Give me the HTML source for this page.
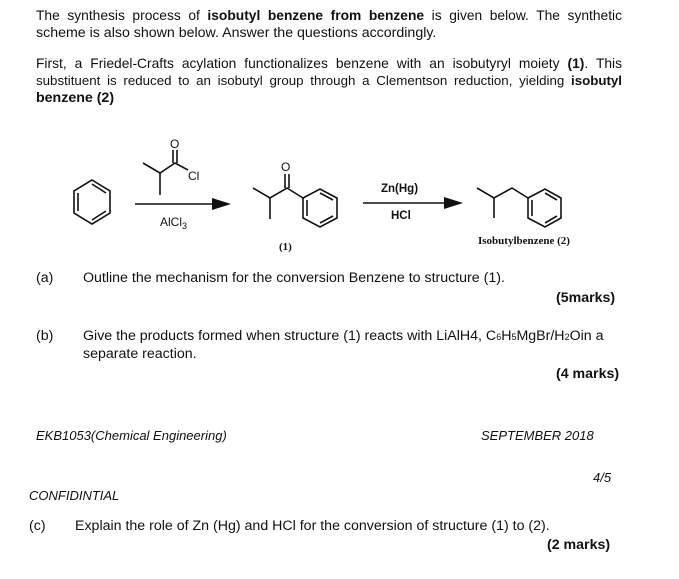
<!DOCTYPE html>
<html><head><style>
body{margin:0;width:679px;height:579px;background:#fff;position:relative;overflow:hidden;font-family:"Liberation Sans",Arial,sans-serif;color:#111;}
.t{position:absolute;font-size:14.2px;white-space:nowrap;line-height:16px;}
.j{width:586px;text-align:justify;text-align-last:justify;white-space:normal;font-size:13.8px;}
.i{font-style:italic;font-size:13px;}
</style></head><body>
<div class="t j" style="left:36px;top:8px">The synthesis process of <b>isobutyl benzene from benzene</b> is given below. The synthetic</div>
<div class="t" style="left:36px;top:25px">scheme is also shown below. Answer the questions accordingly.</div>
<div class="t j" style="left:36px;top:56px">First, a Friedel-Crafts acylation functionalizes benzene with an isobutyryl moiety <b>(1)</b>. This</div>
<div class="t j" style="left:36px;top:73px;font-size:13.3px">substituent is reduced to an isobutyl group through a Clementson reduction, yielding <b>isobutyl</b></div>
<div class="t" style="left:36px;top:90px"><b>benzene (2)</b></div>

<svg width="679" height="579" style="position:absolute;left:0;top:0" font-family="Liberation Sans, Arial, sans-serif">
<g stroke="#111" stroke-width="1.6" fill="none">
<polygon points="92,180 110,191 110,213 92,224 74,213 74,191"/>
<polyline points="78,193 78,211"/><polyline points="92,184 106,193"/><polyline points="92,220 106,211"/>
<line x1="135" y1="204" x2="214" y2="204"/>
<polyline points="143,163 160,173 175,163 188,170"/><line x1="160" y1="173" x2="160" y2="195"/>
<line x1="173" y1="163" x2="173" y2="150"/><line x1="177" y1="163" x2="177" y2="150"/>
<polyline points="253,188 270,198 287,188 303,198"/><line x1="270" y1="198" x2="270" y2="219"/>
<line x1="285" y1="188" x2="285" y2="174"/><line x1="289" y1="188" x2="289" y2="174"/>
<polygon points="303,198 320,189 337,198 337,218 320,227 303,218"/>
<polyline points="320,193 333,200"/><polyline points="333,216 320,223"/><polyline points="307,200 307,216"/>
<line x1="363" y1="203" x2="446" y2="203"/>
<polyline points="477,188 494,198 512,188 528,198"/><line x1="494" y1="198" x2="494" y2="218"/>
<polygon points="528,198 545,189 561,198 561,218 545,227 528,218"/>
<polyline points="545,193 557,200"/><polyline points="557,216 545,223"/><polyline points="532,200 532,216"/>
</g>
<polygon points="212,198 231,204 212,210" fill="#111"/>
<polygon points="444,197 463,203 444,209" fill="#111"/>
<g font-size="12" fill="#111">
<text x="170" y="148">O</text><text x="188" y="180">Cl</text>
<text x="281" y="171">O</text>
<text x="160" y="226">AlCl<tspan font-size="9" dy="3">3</tspan></text>
<text x="381" y="192" font-weight="bold" font-size="11.5">Zn(Hg)</text><text x="391" y="219" font-weight="bold" font-size="11.5">HCl</text>
</g>
<g font-family="Liberation Serif, serif" font-weight="bold" font-size="11" fill="#111">
<text x="279" y="250">(1)</text><text x="478" y="244">Isobutylbenzene (2)</text>
</g>
</svg>

<div class="t" style="left:36px;top:270px">(a)</div>
<div class="t" style="left:83px;top:270px">Outline the mechanism for the conversion Benzene to structure (1).</div>
<div class="t" style="left:556px;top:290px"><b>(5marks)</b></div>
<div class="t" style="left:36px;top:328px">(b)</div>
<div class="t" style="left:83px;top:328px">Give the products formed when structure (1) reacts with LiAlH4, C<span style="font-size:9px">6</span>H<span style="font-size:9px">5</span>MgBr/H<span style="font-size:9px">2</span>Oin a</div>
<div class="t" style="left:83px;top:346px">separate reaction.</div>
<div class="t" style="left:556px;top:366px"><b>(4 marks)</b></div>
<div class="t i" style="left:36px;top:428px">EKB1053(Chemical Engineering)</div>
<div class="t i" style="left:481px;top:428px">SEPTEMBER 2018</div>
<div class="t i" style="left:593px;top:470px">4/5</div>
<div class="t i" style="left:29px;top:488px">CONFIDINTIAL</div>
<div class="t" style="left:29px;top:518px">(c)</div>
<div class="t" style="left:75px;top:518px">Explain the role of Zn (Hg) and HCl for the conversion of structure (1) to (2).</div>
<div class="t" style="left:547px;top:537px"><b>(2 marks)</b></div>
</body></html>
